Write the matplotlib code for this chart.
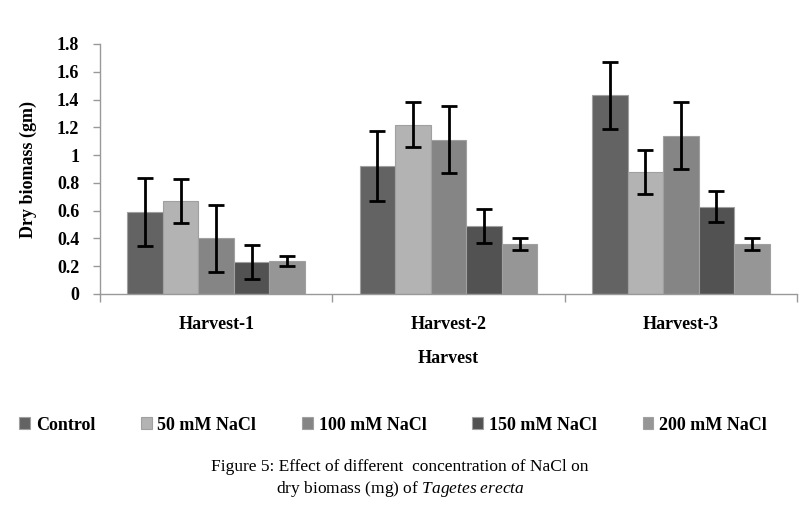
import matplotlib
matplotlib.use("Agg")
import matplotlib.pyplot as plt
import numpy as np

categories = ["Harvest-1", "Harvest-2", "Harvest-3"]
series_names = ["Control", "50 mM NaCl", "100 mM NaCl", "150 mM NaCl", "200 mM NaCl"]
control = [0.59, 0.92, 1.43]
nacl_50 = [0.67, 1.22, 0.88]
nacl_100 = [0.40, 1.11, 1.14]
nacl_150 = [0.23, 0.49, 0.63]
nacl_200 = [0.24, 0.36, 0.36]
err_control = [0.245, 0.25, 0.24]
err_50 = [0.16, 0.16, 0.16]
err_100 = [0.24, 0.24, 0.24]
err_150 = [0.12, 0.12, 0.115]
err_200 = [0.035, 0.04, 0.04]
yticks = [0, 0.2, 0.4, 0.6, 0.8, 1, 1.2, 1.4, 1.6, 1.8]
ytick_labels = ["0", "0.2", "0.4", "0.6", "0.8", "1", "1.2", "1.4", "1.6", "1.8"]

values = [control, nacl_50, nacl_100, nacl_150, nacl_200]
errors = [err_control, err_50, err_100, err_150, err_200]
colors = ["#636363", "#b3b3b3", "#858585", "#525252", "#969696"]

plt.rcParams["font.family"] = ["Liberation Serif", "DejaVu Serif"]
plt.rcParams["mathtext.fontset"] = "custom"
plt.rcParams["mathtext.rm"] = "Liberation Serif"
plt.rcParams["mathtext.it"] = "Liberation Serif:italic"

fig = plt.figure(figsize=(8.09, 5.11), dpi=100)
ax = fig.add_axes([100/809, 1-294/511, 697/809, 250/511])

x = np.arange(len(categories))
bw = 0.153
for i, (vals, errs, c, name) in enumerate(zip(values, errors, colors, series_names)):
    pos = x + (i - 2) * bw
    ax.bar(pos, vals, width=bw, color=c, edgecolor="#a0a0a0", linewidth=0.8, label=name,
           yerr=errs, error_kw=dict(ecolor="black", elinewidth=2, capsize=6, capthick=2))

ax.set_xlim(-0.5, 2.5)
ax.set_ylim(0, 1.8)
ax.set_yticks(yticks)
ax.set_yticklabels(ytick_labels, fontsize=13, fontweight="bold")
ax.set_xticks(x)
ax.set_xticklabels(categories, fontsize=13, fontweight="bold")
ax.set_xticks([-0.5, 0.5, 1.5, 2.5], minor=True)
ax.tick_params(axis="x", which="major", length=0, pad=16)
ax.tick_params(axis="x", which="minor", length=6, color="#999999", width=1)
ax.tick_params(axis="y", length=5, color="#999999", width=1, pad=10)
for s in ["top", "right"]:
    ax.spines[s].set_visible(False)
for s in ["left", "bottom"]:
    ax.spines[s].set_color("#999999")
    ax.spines[s].set_linewidth(1)

ax.set_ylabel("Dry biomass (gm)", fontsize=13, fontweight="bold", labelpad=14)
ax.set_xlabel("Harvest", fontsize=13, fontweight="bold", labelpad=12)

ax.legend(loc="center", bbox_to_anchor=(393/809, 1-425/511), bbox_transform=fig.transFigure,
          ncol=5, frameon=False, prop=dict(size=13, weight="bold"), handlelength=0.6, handleheight=0.6,
          columnspacing=2.55, handletextpad=0.3)

fig.text(400/809, 1-467/511, "Figure 5: Effect of different  concentration of NaCl on",
         ha="center", va="center", fontsize=12.5)
fig.text(400/809, 1-489/511, "dry biomass (mg) of $\\it{Tagetes\\ erecta}$",
         ha="center", va="center", fontsize=12.5)

fig.savefig("out.png", dpi=100)
